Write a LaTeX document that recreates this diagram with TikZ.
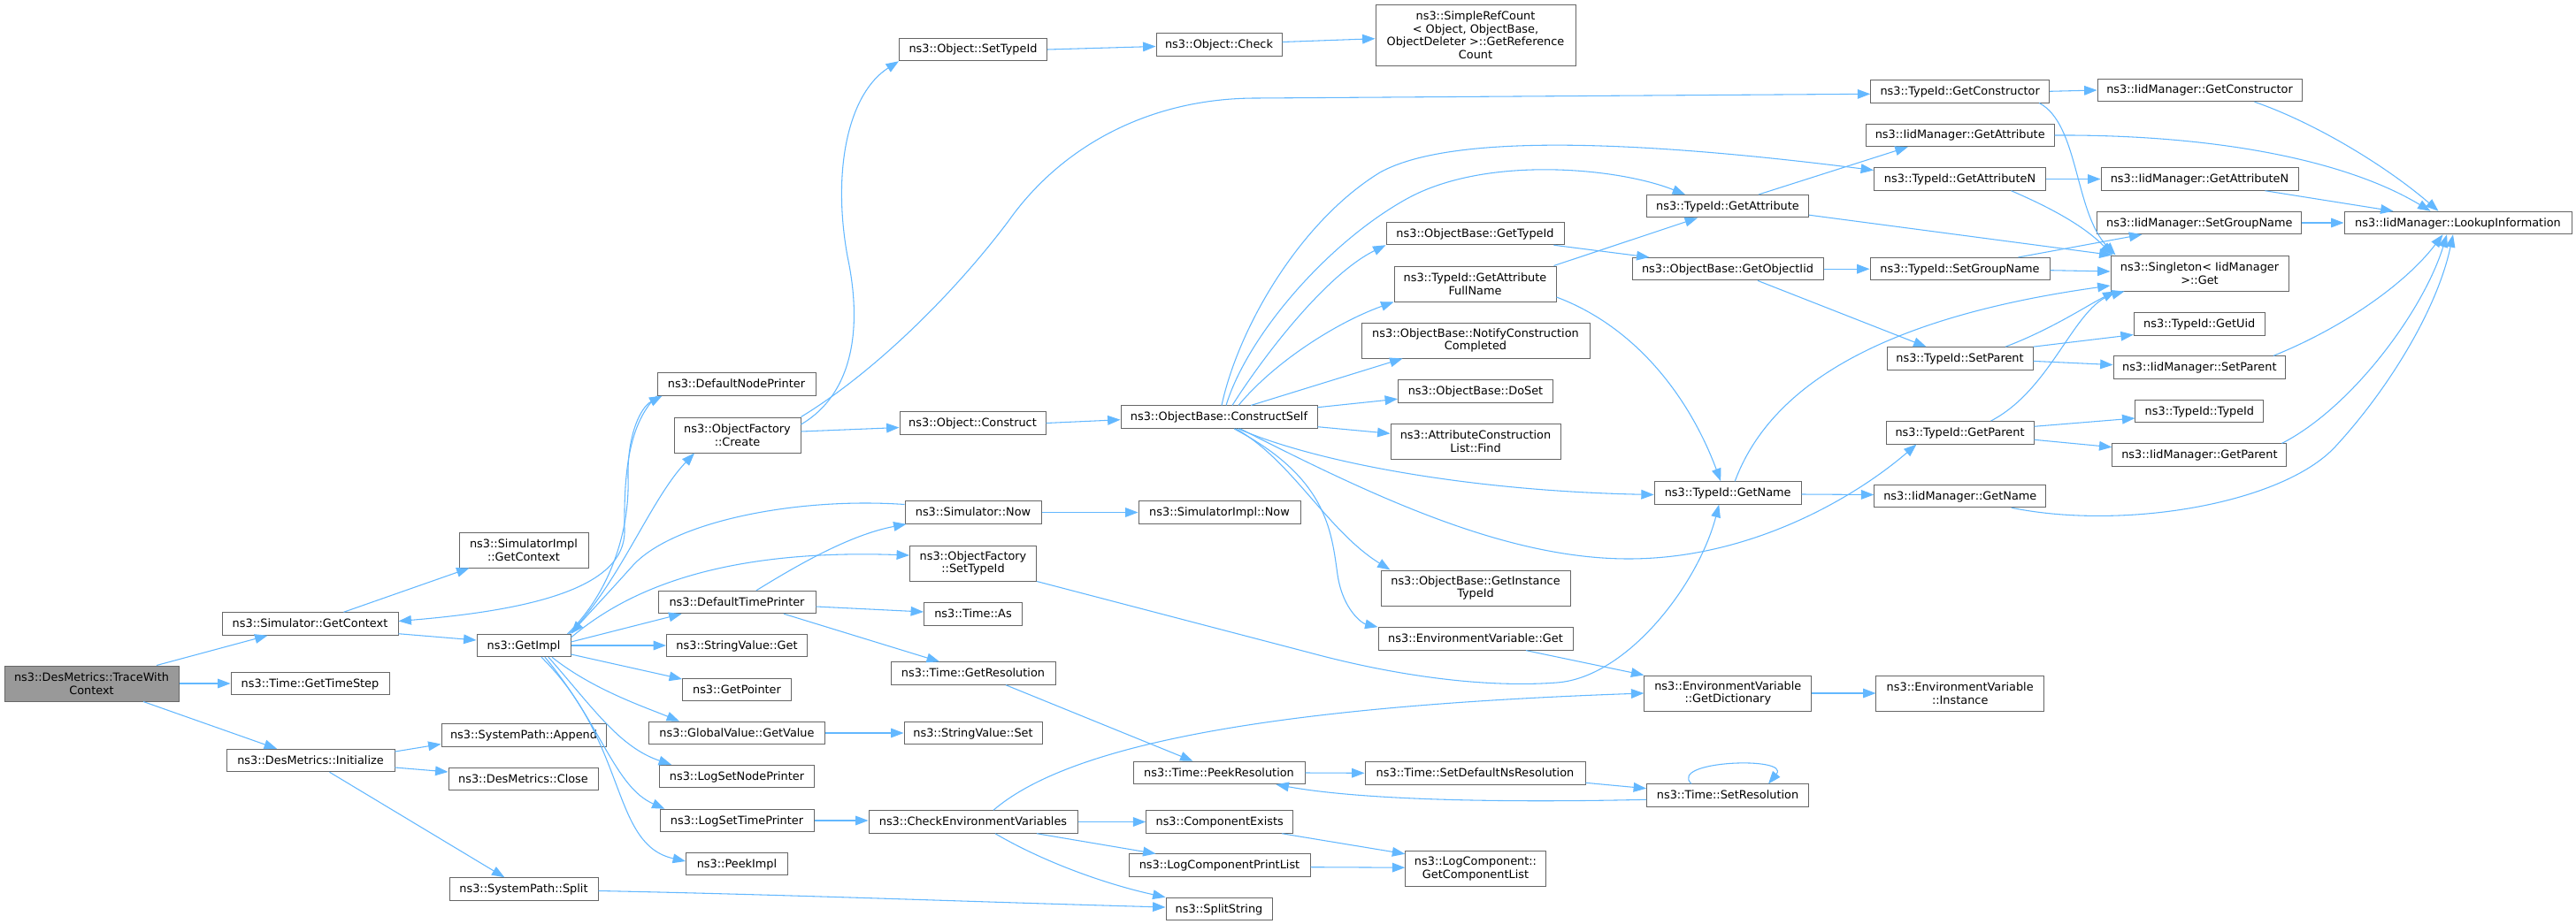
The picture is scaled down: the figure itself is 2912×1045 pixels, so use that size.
\documentclass[tikz,border=0pt]{standalone}
\usepackage{fontspec}
\setmainfont{DejaVu Sans}
\usetikzlibrary{arrows.meta,calc}
\definecolor{edgec}{HTML}{63B8FF}
\definecolor{nodeb}{HTML}{666666}
\definecolor{rootf}{HTML}{999999}
\tikzset{
  nb/.style={draw=nodeb, line width=0.75pt, fill=white, inner sep=0pt, align=center, font=\fontsize{9.65}{11}\selectfont},
  one/.style={nb, minimum width={#1*0.75pt}, minimum height=19.1pt, text height=7.9pt, text depth=1.9pt},
  two/.style={nb, minimum width={#1*0.75pt}, minimum height=30pt},
  four/.style={nb, minimum width={#1*0.75pt}, minimum height=52pt},
  edg/.style={draw=edgec, line width=0.8pt, -{Triangle[length=10.8pt,width=8pt]}},
}
\begin{document}
\begin{tikzpicture}[x=0.75pt,y=-0.75pt]
\fill[white] (0,0) rectangle (2912,1045);
\useasboundingbox (0,0) rectangle (2912,1045);
% ---------- nodes ----------
\node[two=197, fill=rootf] (twc) at (103.5,773) {ns3::DesMetrics::TraceWith\\Context};
\node[one=199] (simgc) at (350.5,705.5) {ns3::Simulator::GetContext};
\node[one=179] (gts) at (350.5,773) {ns3::Time::GetTimeStep};
\node[one=190] (init) at (351,860) {ns3::DesMetrics::Initialize};
\node[two=146] (simimplgc) at (592,622) {ns3::SimulatorImpl\\::GetContext};
\node[one=106] (getimpl) at (592,730) {ns3::GetImpl};
\node[one=186] (append) at (592,831.5) {ns3::SystemPath::Append};
\node[one=169] (close) at (591.5,881) {ns3::DesMetrics::Close};
\node[one=168] (split) at (592,1005.5) {ns3::SystemPath::Split};
\node[one=179] (dnp) at (832.5,434.5) {ns3::DefaultNodePrinter};
\node[two=143] (create) at (833.5,492) {ns3::ObjectFactory\\::Create};
\node[one=178] (dtp) at (833,681) {ns3::DefaultTimePrinter};
\node[one=159] (svget) at (833,730) {ns3::StringValue::Get};
\node[one=123] (getptr) at (833,780) {ns3::GetPointer};
\node[one=199] (gvget) at (833,829) {ns3::GlobalValue::GetValue};
\node[one=175] (lsnp) at (833,878) {ns3::LogSetNodePrinter};
\node[one=174] (lstp) at (833,928) {ns3::LogSetTimePrinter};
\node[one=115] (peekimpl) at (833,977) {ns3::PeekImpl};
\node[one=167] (osettid) at (1100,56) {ns3::Object::SetTypeId};
\node[one=165] (construct) at (1099.5,478.5) {ns3::Object::Construct};
\node[one=154] (simnow) at (1100,579.5) {ns3::Simulator::Now};
\node[two=143] (ofsettid) at (1100,637) {ns3::ObjectFactory\\::SetTypeId};
\node[one=111] (timeas) at (1100,694.5) {ns3::Time::As};
\node[one=186] (getres) at (1100,761.5) {ns3::Time::GetResolution};
\node[one=156] (svset) at (1100,829) {ns3::StringValue::Set};
\node[one=236] (checkenv) at (1100,929.5) {ns3::CheckEnvironmentVariables};
\node[one=142] (check) at (1378,50.5) {ns3::Object::Check};
\node[one=222] (cself) at (1378,471.7) {ns3::ObjectBase::ConstructSelf};
\node[one=183] (simimplnow) at (1378.5,579.5) {ns3::SimulatorImpl::Now};
\node[one=194] (peekres) at (1378,874) {ns3::Time::PeekResolution};
\node[one=166] (compexists) at (1378.7,929.5) {ns3::ComponentExists};
\node[one=205] (lcpl) at (1378.5,978.7) {ns3::LogComponentPrintList};
\node[one=120] (splitstr) at (1378,1028) {ns3::SplitString};
\node[four=226] (src) at (1668,39.7) {ns3::SimpleRefCount\\< Object, ObjectBase,\\ObjectDeleter >::GetReference\\Count};
\node[one=201] (obgettid) at (1667.5,264) {ns3::ObjectBase::GetTypeId};
\node[two=183] (gafn) at (1667.5,321) {ns3::TypeId::GetAttribute\\FullName};
\node[two=258] (ncc) at (1668,385) {ns3::ObjectBase::NotifyConstruction\\Completed};
\node[one=175] (doset) at (1668,442.7) {ns3::ObjectBase::DoSet};
\node[two=192] (acfind) at (1668,499.3) {ns3::AttributeConstruction\\List::Find};
\node[two=214] (gitid) at (1668,665) {ns3::ObjectBase::GetInstance\\TypeId};
\node[one=220] (envget) at (1668,722.4) {ns3::EnvironmentVariable::Get};
\node[one=249] (setdefns) at (1667.5,874.3) {ns3::Time::SetDefaultNsResolution};
\node[two=158.5] (getcomplist) at (1668,982.7) {ns3::LogComponent::\\GetComponentList};
\node[one=183] (tgetattr) at (1953,233.2) {ns3::TypeId::GetAttribute};
\node[one=216] (getobjiid) at (1953,304.2) {ns3::ObjectBase::GetObjectIid};
\node[one=166] (tgetname) at (1953.2,557.5) {ns3::TypeId::GetName};
\node[two=189] (getdict) at (1953.3,784) {ns3::EnvironmentVariable\\::GetDictionary};
\node[one=183] (setres) at (1953,899.7) {ns3::Time::SetResolution};
\node[one=202] (tgetctor) at (2215.7,103.3) {ns3::TypeId::GetConstructor};
\node[one=213] (igetattr) at (2215.7,153) {ns3::IidManager::GetAttribute};
\node[one=194] (tgetattrn) at (2215.5,202.5) {ns3::TypeId::GetAttributeN};
\node[one=203] (tsetgroup) at (2215.5,304.2) {ns3::TypeId::SetGroupName};
\node[one=165] (tsetparent) at (2215.5,405.4) {ns3::TypeId::SetParent};
\node[one=167] (tgetparent) at (2215.5,489.3) {ns3::TypeId::GetParent};
\node[one=194] (igetname) at (2215.8,561) {ns3::IidManager::GetName};
\node[two=189.5] (envinst) at (2215.7,784) {ns3::EnvironmentVariable\\::Instance};
\node[one=231] (igetctor) at (2486.5,102) {ns3::IidManager::GetConstructor};
\node[one=223] (igetattrn) at (2486.5,202.5) {ns3::IidManager::GetAttributeN};
\node[one=231] (isetgroup) at (2486.3,252) {ns3::IidManager::SetGroupName};
\node[two=201] (singleton) at (2486.5,309) {ns3::Singleton< IidManager\\>::Get};
\node[one=148] (getuid) at (2486.2,366.3) {ns3::TypeId::GetUid};
\node[one=194.5] (isetparent) at (2486.3,415.6) {ns3::IidManager::SetParent};
\node[one=145] (typeidctor) at (2486.4,465) {ns3::TypeId::TypeId};
\node[one=197] (igetparent) at (2486.4,514.7) {ns3::IidManager::GetParent};
\node[one=257] (lookup) at (2778.5,252) {ns3::IidManager::LookupInformation};
% ---------- edges: left ----------
\draw[edg] ($(twc.north)+(73.5,0)$) -- ($(simgc.south)+(-48,0)$);
\draw[edg] (twc.east) -- (gts.west);
\draw[edg] ($(twc.south)+(58.5,0)$) -- ($(init.north)+(-38,0)$);
\draw[edg] ($(simgc.north)+(38,0)$) -- ($(simimplgc.south west)+(12,0)$);
\draw[edg] ($(simgc.south east)+(0,-2)$) -- ($(getimpl.west)+(0,-6)$);
\draw[edg] ($(init.east)+(0,-10)$) -- ($(append.west)+(0,10)$);
\draw[edg] ($(init.east)+(0,8)$) -- ($(close.west)+(0,-8)$);
\draw[edg] ($(init.south)+(21.5,0)$) -- ($(split.north)+(-21.6,0)$);
\draw[edg] (dnp.south west) .. controls (712,478) and (705,530) .. (706,600) .. controls (707,665) and (600,690) .. ($(simgc.east)+(0,-3)$);
% GetImpl fan-out
\draw[edg] ($(getimpl.north east)+(-4,0)$) .. controls (690,670) and (712,600) .. (710,540) .. controls (709,490) and (725,460) .. ($(dnp.south west)+(6,0)$);
\draw[edg] ($(getimpl.north east)+(-2,0)$) .. controls (700,660) and (735,565) .. ($(create.south)+(-48.5,0)$);
\draw[edg] ($(simnow.west)+(0,-9)$) .. controls (900,562) and (760,590) .. (715,640) .. controls (690,668) and (660,700) .. (getimpl.north east);
\draw[edg] ($(getimpl.east)+(0,-9)$) .. controls (700,675) and (800,620) .. ($(ofsettid.west)+(0,-9)$);
\draw[edg] ($(getimpl.east)+(0,-4)$) -- ($(dtp.south west)+(27,0)$);
\draw[edg] (getimpl.east) -- (svget.west);
\draw[edg] ($(getimpl.east)+(0,10)$) -- ($(getptr.west)+(0,-12)$);
\draw[edg] ($(getimpl.south)+(32,0)$) .. controls (670,780) and (730,800) .. ($(gvget.north west)+(35,0)$);
\draw[edg] ($(getimpl.south)+(28,0)$) .. controls (670,800) and (700,845) .. ($(lsnp.north west)+(14,0)$);
\draw[edg] ($(getimpl.south)+(24,0)$) .. controls (680,820) and (695,890) .. ($(lstp.north west)+(6,0)$);
\draw[edg] ($(getimpl.south)+(20,0)$) .. controls (710,840) and (690,955) .. ($(peekimpl.west)+(0,-3)$);
\draw[edg] ($(dtp.north)+(22,0)$) .. controls (900,640) and (960,605) .. ($(simnow.south west)+(2,0)$);
\draw[edg] ($(dtp.east)+(0,5)$) -- ($(timeas.west)+(0,-2.5)$);
\draw[edg] ($(dtp.south)+(53,0)$) -- ($(getres.north)+(-38,0)$);
\draw[edg] (simnow.east) -- (simimplnow.west);
\draw[edg] (gvget.east) -- (svset.west);
\draw[edg] (lstp.east) -- ($(checkenv.west)+(0,-1.5)$);
% Create
\draw[edg] ($(create.east)+(0,-12)$) .. controls (965,445) and (975,370) .. (958,290) .. controls (940,190) and (960,105) .. (osettid.south west);
\draw[edg] (create.north east) .. controls (990,420) and (1080,330) .. (1140,250) .. controls (1200,165) and (1300,111) .. (1420,111) -- ($(tgetctor.west)+(0,3)$);
\draw[edg] ($(create.east)+(0,-4)$) -- ($(construct.west)+(0,5)$);
\draw[edg] (osettid.east) -- ($(check.west)+(0,2)$);
\draw[edg] ($(check.east)+(0,-3)$) -- ($(src.west)+(0,4)$);
\draw[edg] (construct.east) -- ($(cself.west)+(0,3)$);
% ConstructSelf fan-out
\draw[edg] ($(cself.north)+(3,0)$) .. controls (1400,370) and (1470,250) .. (1560,195) .. controls (1650,145) and (1900,165) .. ($(tgetattrn.west)+(0,-10)$);
\draw[edg] ($(cself.north)+(8,0)$) .. controls (1410,380) and (1500,275) .. (1590,225) .. controls (1680,175) and (1830,190) .. ($(tgetattr.north west)+(44,0)$);
\draw[edg] ($(cself.north)+(15,0)$) .. controls (1430,400) and (1500,310) .. (obgettid.south west);
\draw[edg] ($(cself.north)+(22,0)$) .. controls (1440,410) and (1510,365) .. (gafn.south west);
\draw[edg] ($(cself.north)+(36,0)$) -- ($(ncc.south west)+(47,0)$);
\draw[edg] ($(cself.east)+(0,-11)$) -- ($(doset.west)+(0,8.5)$);
\draw[edg] ($(cself.east)+(0,11)$) -- ($(acfind.west)+(0,-9)$);
\draw[edg] ($(cself.south)+(22,0)$) .. controls (1480,520) and (1650,555) .. ($(tgetname.west)+(0,2)$);
\draw[edg] ($(cself.south)+(24,0)$) .. controls (1550,560) and (1700,632) .. (1841,632) .. controls (1982,632) and (2100,560) .. ($(tgetparent.south west)+(35,0)$);
\draw[edg] ($(cself.south)+(19,0)$) .. controls (1460,520) and (1500,600) .. ($(gitid.north west)+(11,0)$);
\draw[edg] ($(cself.south)+(17,0)$) .. controls (1500,540) and (1505,600) .. (1512,650) .. controls (1518,690) and (1540,705) .. (envget.north west);
% middle
\draw[edg] ($(obgettid.south east)+(-12,0)$) -- ($(getobjiid.north west)+(20,0)$);
\draw[edg] ($(gafn.north east)+(-3,0)$) -- ($(tgetattr.south)+(-34,0)$);
\draw[edg] ($(gafn.east)+(0,15)$) .. controls (1850,370) and (1910,450) .. ($(tgetname.north)+(-8,0)$);
\draw[edg] ($(tgetattr.north east)+(-57,0)$) -- ($(igetattr.south west)+(48,0)$);
\draw[edg] ($(tgetattr.east)+(0,10)$) -- ($(singleton.north west)+(2,0)$);
\draw[edg] (getobjiid.east) -- (tsetgroup.west);
\draw[edg] ($(getobjiid.south)+(34,0)$) -- ($(tsetparent.north west)+(45,0)$);
\draw[edg] ($(tgetname.east)+(0,1.5)$) -- ($(igetname.west)+(0,-1.5)$);
\draw[edg] ($(tgetname.north)+(8,0)$) .. controls (2000,440) and (2120,360) .. ($(singleton.west)+(0,14)$);
\draw[edg] ($(envget.south)+(57,0)$) -- (getdict.north west);
\draw[edg] (getdict.east) -- (envinst.west);
\draw[edg] ($(checkenv.north)+(23,0)$) .. controls (1200,850) and (1400,800) .. (getdict.west);
\draw[edg] (ofsettid.south east) -- (1480,738) .. controls (1580,765) and (1680,778) .. (1760,772) .. controls (1840,766) and (1920,660) .. ($(tgetname.south)+(-10,0)$);
\draw[edg] ($(getres.south)+(37,0)$) -- ($(peekres.north west)+(68,0)$);
\draw[edg] (peekres.east) -- (setdefns.west);
\draw[edg] ($(setdefns.east)+(0,11)$) -- ($(setres.west)+(0,-8)$);
\draw[edg] ($(setres.west)+(0,4.6)$) .. controls (1700,908) and (1540,905) .. ($(peekres.south east)+(-33,0)$);
\draw[edg] ($(setres.north)+(-41,0)$) .. controls (1885,860) and (2025,855) .. ($(setres.north)+(46,0)$);
\draw[edg] (checkenv.east) -- (compexists.west);
\draw[edg] ($(checkenv.south)+(72,0)$) -- ($(lcpl.north west)+(31,0)$);
\draw[edg] ($(checkenv.south)+(25,0)$) .. controls (1180,975) and (1250,1000) .. (splitstr.north west);
\draw[edg] ($(split.east)+(0,2)$) .. controls (900,1012) and (1100,1020) .. ($(splitstr.west)+(0,-2)$);
\draw[edg] ($(compexists.south east)+(-13,0)$) -- ($(getcomplist.north west)+(0,3.5)$);
\draw[edg] ($(lcpl.east)+(0,2)$) -- ($(getcomplist.west)+(0,-1.5)$);
% right
\draw[edg] (tgetctor.east) -- (igetctor.west);
\draw[edg] ($(tgetctor.south east)+(-12,0)$) .. controls (2350,140) and (2345,240) .. ($(singleton.north west)+(6,0)$);
\draw[edg] (tgetattrn.east) -- (igetattrn.west);
\draw[edg] ($(tgetattrn.south)+(58,0)$) .. controls (2330,240) and (2360,260) .. ($(singleton.north west)+(3,0)$);
\draw[edg] ($(igetctor.south)+(62,0)$) .. controls (2620,140) and (2700,190) .. ($(lookup.north)+(-22,0)$);
\draw[edg] (igetattr.east) .. controls (2500,152) and (2650,180) .. ($(lookup.north)+(-31,0)$);
\draw[edg] ($(igetattrn.south)+(74,0)$) -- ($(lookup.north)+(-73,0)$);
\draw[edg] (isetgroup.east) -- (lookup.west);
\draw[edg] ($(tsetgroup.north)+(66,0)$) -- ($(isetgroup.south west)+(51,0)$);
\draw[edg] ($(tsetgroup.east)+(0,1.5)$) -- ($(singleton.west)+(0,-2)$);
\draw[edg] ($(tsetparent.north)+(51.5,0)$) .. controls (2320,372) and (2360,345) .. ($(singleton.south west)+(6,0)$);
\draw[edg] (tsetparent.north east) -- ($(getuid.south west)+(0,-1)$);
\draw[edg] ($(tsetparent.east)+(0,3)$) -- ($(isetparent.west)+(0,-3)$);
\draw[edg] ($(isetparent.north)+(83.6,0)$) .. controls (2650,370) and (2720,320) .. ($(lookup.south)+(-17,0)$);
\draw[edg] ($(tgetparent.north)+(35,0)$) .. controls (2320,440) and (2345,345) .. ($(singleton.south west)+(16,0)$);
\draw[edg] ($(tgetparent.east)+(0,-7)$) -- ($(typeidctor.west)+(0,8)$);
\draw[edg] ($(tgetparent.east)+(0,8)$) -- ($(igetparent.west)+(0,-9)$);
\draw[edg] ($(igetparent.north)+(93,0)$) .. controls (2660,460) and (2740,350) .. ($(lookup.south)+(-12.5,0)$);
\draw[edg] ($(igetname.south)+(58,0)$) .. controls (2400,600) and (2580,570) .. (2640,505) .. controls (2700,440) and (2755,350) .. ($(lookup.south)+(-5.5,0)$);
\end{tikzpicture}
\end{document}
